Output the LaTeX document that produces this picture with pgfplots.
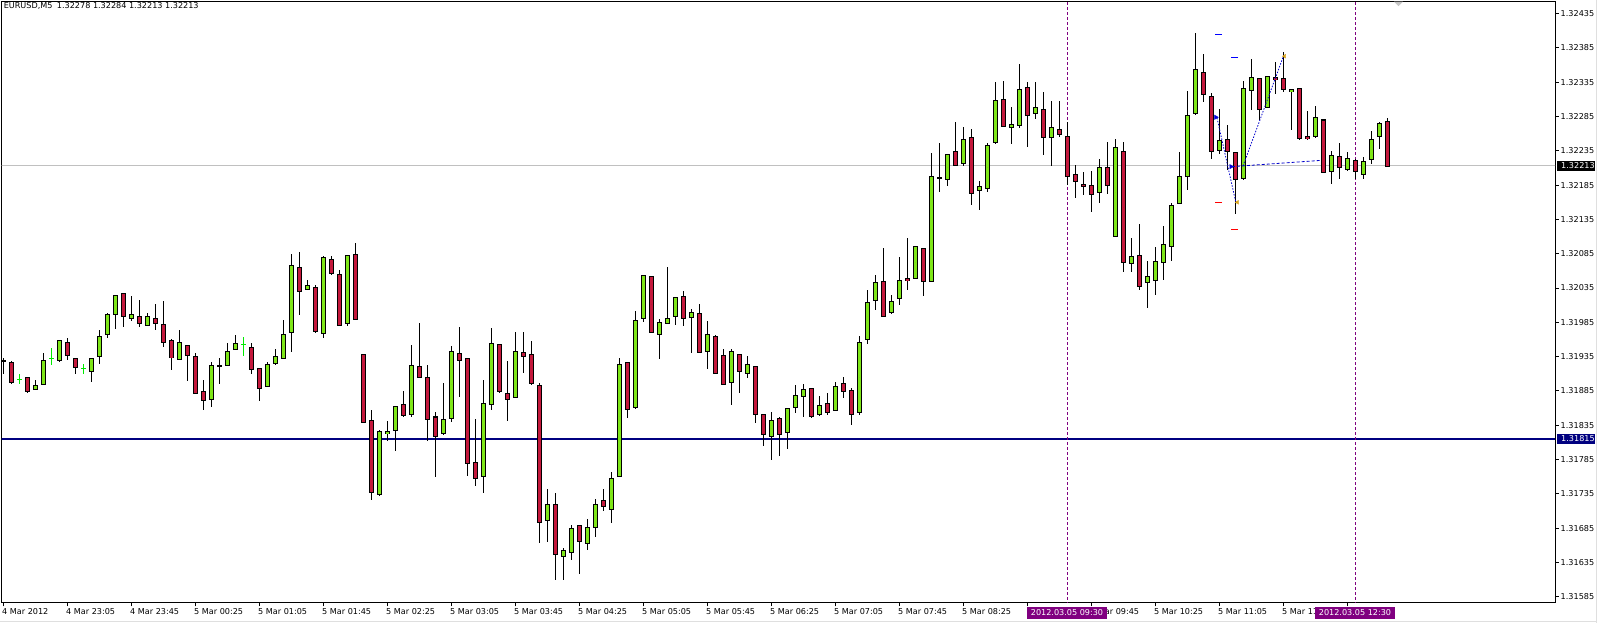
\documentclass[border=0pt]{standalone}
\usepackage{pgfplots}
\pgfplotsset{compat=1.18}
\usepackage{pgfplotstable}
\usepackage{fontspec}
\setmainfont{DejaVu Sans}
\definecolor{bullc}{RGB}{126,230,24}
\definecolor{bearc}{RGB}{196,24,60}
\definecolor{dojic}{RGB}{0,235,0}
\definecolor{navyc}{RGB}{0,0,128}
\definecolor{purp}{RGB}{128,0,128}
\definecolor{curc}{RGB}{192,192,192}
\definecolor{goldc}{RGB}{218,165,32}
\newcommand\mtfont{\fontsize{8.1}{9.7}\selectfont}

% bullish candles: bar index, open, high, low, close
\pgfplotstableread{
x o h l c
0 1.31930 1.31934 1.31911 1.31931
4 1.31887 1.31902 1.31887 1.31894
5 1.31896 1.31942 1.31896 1.31931
7 1.31931 1.31959 1.31928 1.31959
11 1.31913 1.31933 1.31898 1.31933
12 1.31936 1.31974 1.31925 1.31965
13 1.31968 1.31998 1.31961 1.31998
14 1.31997 1.32024 1.31976 1.32024
16 1.31991 1.32024 1.31988 1.31997
18 1.31982 1.31998 1.31979 1.31994
22 1.31931 1.31975 1.31930 1.31956
26 1.31873 1.31927 1.31861 1.31922
27 1.31922 1.31933 1.31896 1.31923
28 1.31923 1.31956 1.31922 1.31944
29 1.31947 1.31968 1.31946 1.31956
33 1.31893 1.31927 1.31892 1.31925
34 1.31927 1.31948 1.31925 1.31936
35 1.31933 1.31988 1.31932 1.31968
36 1.31971 1.32085 1.31942 1.32068
38 1.32033 1.32047 1.32032 1.32039
40 1.31969 1.32083 1.31963 1.32080
43 1.31984 1.32084 1.31981 1.32083
47 1.31734 1.31828 1.31731 1.31826
48 1.31823 1.31842 1.31813 1.31826
49 1.31828 1.31863 1.31797 1.31863
51 1.31851 1.31954 1.31849 1.31922
55 1.31823 1.31898 1.31822 1.31844
56 1.31845 1.31952 1.31841 1.31943
60 1.31761 1.31903 1.31738 1.31868
61 1.31867 1.31978 1.31858 1.31956
64 1.31876 1.31971 1.31875 1.31944
68 1.31696 1.31743 1.31666 1.31720
70 1.31644 1.31657 1.31610 1.31653
71 1.31650 1.31689 1.31638 1.31686
73 1.31663 1.31699 1.31654 1.31686
74 1.31688 1.31728 1.31673 1.31721
76 1.31714 1.31768 1.31694 1.31759
77 1.31762 1.31933 1.31761 1.31925
79 1.31861 1.32004 1.31860 1.31988
80 1.31991 1.32056 1.31988 1.32055
82 1.31968 1.31991 1.31933 1.31985
83 1.31984 1.32065 1.31983 1.31991
84 1.31994 1.32023 1.31982 1.32022
86 1.31994 1.32004 1.31940 1.32001
88 1.31944 1.31988 1.31917 1.31968
91 1.31898 1.31946 1.31864 1.31943
93 1.31911 1.31936 1.31905 1.31924
96 1.31819 1.31855 1.31785 1.31842
98 1.31825 1.31861 1.31801 1.31860
99 1.31861 1.31894 1.31854 1.31879
100 1.31877 1.31897 1.31848 1.31887
102 1.31851 1.31879 1.31850 1.31864
104 1.31858 1.31900 1.31857 1.31893
107 1.31855 1.31966 1.31851 1.31957
108 1.31960 1.32033 1.31954 1.32014
109 1.32017 1.32055 1.32004 1.32043
111 1.32001 1.32026 1.31997 1.32017
112 1.32020 1.32080 1.32010 1.32046
114 1.32049 1.32097 1.32048 1.32096
116 1.32046 1.32233 1.32045 1.32198
117 1.32195 1.32248 1.32176 1.32196
118 1.32194 1.32231 1.32185 1.32230
120 1.32217 1.32271 1.32214 1.32253
122 1.32178 1.32192 1.32150 1.32183
123 1.32180 1.32248 1.32177 1.32243
124 1.32248 1.32336 1.32246 1.32309
126 1.32269 1.32299 1.32246 1.32274
127 1.32272 1.32363 1.32269 1.32325
129 1.32291 1.32336 1.32282 1.32299
131 1.32255 1.32309 1.32214 1.32269
137 1.32176 1.32224 1.32159 1.32212
139 1.32110 1.32253 1.32109 1.32240
141 1.32071 1.32108 1.32059 1.32081
143 1.32042 1.32075 1.32007 1.32051
144 1.32048 1.32096 1.32027 1.32075
145 1.32073 1.32127 1.32048 1.32099
146 1.32096 1.32159 1.32075 1.32156
147 1.32159 1.32234 1.32158 1.32198
148 1.32199 1.32323 1.32178 1.32287
149 1.32290 1.32408 1.32289 1.32354
152 1.32237 1.32297 1.32231 1.32252
155 1.32195 1.32338 1.32194 1.32326
156 1.32325 1.32370 1.32296 1.32344
158 1.32299 1.32345 1.32298 1.32344
161 1.32322 1.32326 1.32266 1.32325
164 1.32256 1.32301 1.32255 1.32284
166 1.32207 1.32237 1.32188 1.32230
168 1.32208 1.32233 1.32205 1.32224
170 1.32201 1.32227 1.32194 1.32221
171 1.32224 1.32265 1.32218 1.32253
172 1.32256 1.32278 1.32239 1.32275
}\bulltab

% bearish candles
\pgfplotstableread{
x o h l c
1 1.31928 1.31930 1.31897 1.31898
3 1.31905 1.31907 1.31883 1.31884
8 1.31956 1.31962 1.31931 1.31936
9 1.31933 1.31933 1.31910 1.31919
15 1.32027 1.32027 1.31979 1.31994
17 1.31994 1.32019 1.31979 1.31984
19 1.31991 1.32013 1.31976 1.31984
20 1.31982 1.32016 1.31949 1.31956
21 1.31959 1.31962 1.31916 1.31933
23 1.31953 1.31953 1.31901 1.31938
24 1.31936 1.31941 1.31881 1.31882
25 1.31884 1.31902 1.31858 1.31871
31 1.31950 1.31956 1.31910 1.31917
32 1.31919 1.31919 1.31871 1.31890
37 1.32065 1.32088 1.31996 1.32030
39 1.32036 1.32039 1.31969 1.31972
41 1.32078 1.32083 1.32055 1.32057
42 1.32055 1.32062 1.31980 1.31981
44 1.32086 1.32102 1.31990 1.31991
45 1.31938 1.31939 1.31838 1.31839
46 1.31842 1.31858 1.31727 1.31737
50 1.31866 1.31886 1.31849 1.31849
52 1.31921 1.31985 1.31904 1.31905
53 1.31906 1.31924 1.31813 1.31845
54 1.31848 1.31855 1.31760 1.31820
57 1.31940 1.31978 1.31877 1.31930
58 1.31933 1.31934 1.31761 1.31780
59 1.31782 1.31845 1.31747 1.31758
62 1.31953 1.31954 1.31883 1.31884
63 1.31882 1.31930 1.31842 1.31874
65 1.31943 1.31971 1.31912 1.31936
66 1.31938 1.31959 1.31895 1.31896
67 1.31893 1.31896 1.31663 1.31694
69 1.31721 1.31736 1.31610 1.31647
72 1.31689 1.31689 1.31618 1.31666
75 1.31726 1.31742 1.31711 1.31717
78 1.31927 1.31928 1.31847 1.31858
81 1.32052 1.32053 1.31970 1.31971
85 1.32024 1.32032 1.31981 1.31992
87 1.32000 1.32013 1.31942 1.31943
89 1.31965 1.31968 1.31910 1.31911
90 1.31937 1.31946 1.31894 1.31895
92 1.31938 1.31939 1.31884 1.31914
94 1.31922 1.31923 1.31839 1.31852
95 1.31851 1.31852 1.31806 1.31822
97 1.31845 1.31848 1.31791 1.31822
101 1.31890 1.31891 1.31847 1.31848
103 1.31867 1.31884 1.31851 1.31855
105 1.31896 1.31905 1.31874 1.31883
106 1.31886 1.31889 1.31835 1.31851
110 1.32046 1.32094 1.31994 1.31995
113 1.32049 1.32108 1.32033 1.32046
115 1.32093 1.32094 1.32024 1.32045
119 1.32234 1.32277 1.32213 1.32214
121 1.32256 1.32268 1.32157 1.32175
125 1.32312 1.32338 1.32271 1.32272
128 1.32328 1.32336 1.32240 1.32288
130 1.32297 1.32322 1.32229 1.32256
132 1.32266 1.32309 1.32256 1.32259
133 1.32256 1.32277 1.32186 1.32198
134 1.32201 1.32215 1.32167 1.32191
135 1.32188 1.32204 1.32170 1.32185
136 1.32186 1.32207 1.32147 1.32172
138 1.32211 1.32248 1.32173 1.32185
140 1.32236 1.32248 1.32059 1.32073
142 1.32084 1.32129 1.32033 1.32039
150 1.32351 1.32376 1.32306 1.32318
151 1.32315 1.32319 1.32223 1.32234
153 1.32253 1.32274 1.32208 1.32236
154 1.32233 1.32234 1.32144 1.32194
157 1.32341 1.32342 1.32281 1.32296
159 1.32341 1.32364 1.32318 1.32338
160 1.32341 1.32379 1.32322 1.32325
162 1.32326 1.32327 1.32252 1.32253
163 1.32256 1.32293 1.32252 1.32253
165 1.32281 1.32282 1.32204 1.32205
167 1.32227 1.32248 1.32195 1.32211
169 1.32221 1.32224 1.32195 1.32205
173 1.32278 1.32284 1.32213 1.32213
}\beartab

% doji bars (open = close)
\pgfplotstableread{
x p h l
2 1.31902 1.31909 1.31895
6 1.31933 1.31948 1.31924
10 1.31917 1.31924 1.31910
30 1.31953 1.31965 1.31938
}\dojitab

\pgfplotsset{
  nomark/.style={only marks, mark=*, mark size=0pt, mark options={draw=none, fill=none}, forget plot},
  wick/.style={nomark,
    error bars/.cd, y dir=both, y explicit, error mark=none,
    error bar style={line width=1pt, #1}},
  body/.style 2 args={nomark,
    error bars/.cd, y dir=both, y explicit, error mark=none,
    error bar style={line width=#1, #2}},
}

\begin{document}
\begin{tikzpicture}[x=1pt,y=1pt]
\path[use as bounding box, fill=white] (0,0) rectangle (1597,623);
\draw[gray!25, line width=1pt] (0,1.2) -- (1597,1.2);
\draw[gray!25, line width=1pt] (1596,0) -- (1596,623);
\begin{axis}[
  at={(1.7pt,20pt)}, anchor=south west,
  scale only axis, width=1553.3pt, height=601.3pt,
  xmin=-0.1625, xmax=194, ymin=1.315758, ymax=1.324525,
  axis line style={black, line width=1pt},
  xtick={0,8,...,168},
  xticklabels={4 Mar 2012,4 Mar 23:05,4 Mar 23:45,5 Mar 00:25,5 Mar 01:05,5 Mar 01:45,5 Mar 02:25,5 Mar 03:05,5 Mar 03:45,5 Mar 04:25,5 Mar 05:05,5 Mar 05:45,5 Mar 06:25,5 Mar 07:05,5 Mar 07:45,5 Mar 08:25,{},5 Mar 09:45,5 Mar 10:25,5 Mar 11:05,5 Mar 11:45,{}},
  ytick={1.31585,1.31635,1.31685,1.31735,1.31785,1.31835,1.31885,1.31935,1.31985,1.32035,1.32085,1.32135,1.32185,1.32235,1.32285,1.32335,1.32385,1.32435},
  yticklabels={1.31585,1.31635,1.31685,1.31735,1.31785,1.31835,1.31885,1.31935,1.31985,1.32035,1.32085,1.32135,1.32185,1.32235,1.32285,1.32335,1.32385,1.32435},
  xtick pos=bottom, ytick pos=right, yticklabel pos=right,
  tick align=outside, major tick length=3.5pt,
  tick style={black, line width=1pt},
  xticklabel style={anchor=north west, inner sep=0pt, xshift=-1pt, yshift=-2pt, font=\mtfont},
  yticklabel style={anchor=west, inner sep=0pt, xshift=2pt, font=\mtfont},
]
% current price and horizontal level
\addplot[curc, line width=1pt, forget plot] coordinates {(-1,1.32213) (200,1.32213)};
\addplot[navyc, line width=2pt, forget plot] coordinates {(-1,1.31815) (200,1.31815)};
% vertical time markers
\addplot[purp, line width=1pt, dash pattern=on 3pt off 2pt, forget plot] coordinates {(133,1.3150) (133,1.3250)};
\addplot[purp, line width=1pt, dash pattern=on 3pt off 2pt, forget plot] coordinates {(169,1.3150) (169,1.3250)};

% wicks
\addplot[wick=black] table[x=x, y expr={(\thisrow{h}+\thisrow{l})/2}, y error expr={(\thisrow{h}-\thisrow{l})/2}] {\bulltab};
\addplot[wick=black] table[x=x, y expr={(\thisrow{h}+\thisrow{l})/2}, y error expr={(\thisrow{h}-\thisrow{l})/2}] {\beartab};
\addplot[wick=dojic] table[x=x, y expr={(\thisrow{h}+\thisrow{l})/2}, y error expr={(\thisrow{h}-\thisrow{l})/2}] {\dojitab};
% bodies: black outline then fill
\addplot[body={5pt}{black}] table[x=x, y expr={(\thisrow{o}+\thisrow{c})/2}, y error expr={(\thisrow{c}-\thisrow{o})/2+0.0000073}] {\bulltab};
\addplot[body={3pt}{bullc}] table[x=x, y expr={(\thisrow{o}+\thisrow{c})/2}, y error expr={max((\thisrow{c}-\thisrow{o})/2-0.0000073,0)}] {\bulltab};
\addplot[body={5pt}{black}] table[x=x, y expr={(\thisrow{o}+\thisrow{c})/2}, y error expr={(\thisrow{o}-\thisrow{c})/2+0.0000073}] {\beartab};
\addplot[body={3pt}{bearc}] table[x=x, y expr={(\thisrow{o}+\thisrow{c})/2}, y error expr={max((\thisrow{o}-\thisrow{c})/2-0.0000073,0)}] {\beartab};
\addplot[only marks, mark=-, mark size=2.5pt, mark options={line width=1pt, dojic}, forget plot] table[x=x, y=p] {\dojitab};

% trades
\addplot[blue!80!black, line width=0.8pt, dash pattern=on 1.5pt off 1.5pt, forget plot] coordinates {(151.75,1.32283) (154.1,1.32160)};
\addplot[blue!80!black, line width=0.8pt, dash pattern=on 1.5pt off 1.5pt, forget plot] coordinates {(155,1.32213) (160.05,1.32373)};
\addplot[blue!80!black, line width=0.8pt, dash pattern=on 3pt off 2pt, forget plot] coordinates {(153.6,1.32212) (164.6,1.32221)};
\addplot[only marks, mark=triangle*, mark size=2.5pt, mark options={rotate=-90, blue!85!black}, forget plot] coordinates {(151.6,1.32284) (153.5,1.32212)};
\addplot[only marks, mark=triangle*, mark size=2.2pt, mark options={rotate=90, goldc}, forget plot] coordinates {(154.3,1.32160) (160.2,1.32373)};
\addplot[only marks, mark=-, mark size=3.5pt, mark options={line width=1pt, blue}, forget plot] coordinates {(151.95,1.32405) (153.95,1.32371)};
\addplot[only marks, mark=-, mark size=3.5pt, mark options={line width=1pt, red}, forget plot] coordinates {(151.95,1.32160) (153.95,1.32121)};

\coordinate (pcur) at (axis cs:194,1.32213);
\coordinate (plev) at (axis cs:194,1.31815);
\coordinate (v1) at (axis cs:133,1.315758);
\coordinate (v2) at (axis cs:169,1.315758);
\end{axis}
% header
\node[anchor=north west, inner sep=0pt, font=\mtfont] at (3.6,620.4) {EURUSD,M5\hspace{0.55em}1.32278 1.32284 1.32213 1.32213};
% shift marker
\fill[gray!45] (1394,621.3) -- (1403,621.3) -- (1398.5,616.8) -- cycle;
% price boxes
\fill[black] ([xshift=1.7pt,yshift=-5.2pt]pcur) rectangle ([xshift=40pt,yshift=5.2pt]pcur);
\node[anchor=west, inner sep=0pt, text=white, font=\mtfont] at ([xshift=6pt]pcur) {1.32213};
\fill[navyc] ([xshift=1.7pt,yshift=-5.2pt]plev) rectangle ([xshift=40pt,yshift=5.2pt]plev);
\node[anchor=west, inner sep=0pt, text=white, font=\mtfont] at ([xshift=6pt]plev) {1.31815};
% time boxes
\fill[purp] ([xshift=-40.5pt,yshift=-4.2pt]v1) rectangle ([xshift=39.5pt,yshift=-15.8pt]v1);
\node[inner sep=0pt, text=white, font=\mtfont] at ([yshift=-10pt]v1) {2012.03.05 09:30};
\fill[purp] ([xshift=-40pt,yshift=-4.2pt]v2) rectangle ([xshift=40pt,yshift=-15.8pt]v2);
\node[inner sep=0pt, text=white, font=\mtfont] at ([yshift=-10pt]v2) {2012.03.05 12:30};
\end{tikzpicture}
\end{document}
